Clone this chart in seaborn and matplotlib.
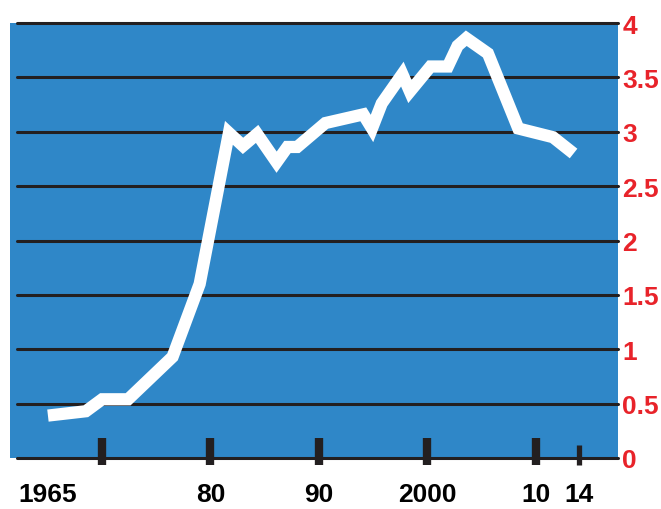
import numpy as np
import pandas as pd
import seaborn as sns
import matplotlib.pyplot as plt

# values
years = [1965, 1968.5, 1970, 1972.4, 1976.5, 1979, 1981.7, 1983, 1984.3, 1986.1,
         1987.1, 1988, 1990.6, 1994.1, 1994.9, 1995.8, 1997.7, 1998.4, 2000.3,
         2001.9, 2002.8, 2003.6, 2005.6, 2008.4, 2011.6, 2013.5]
values = [0.39, 0.43, 0.54, 0.54, 0.93, 1.60, 2.99, 2.87, 2.98, 2.72,
          2.86, 2.86, 3.08, 3.16, 3.03, 3.26, 3.53, 3.37, 3.60,
          3.60, 3.79, 3.86, 3.72, 3.03, 2.95, 2.80]

y_ticks = [0, 0.5, 1, 1.5, 2, 2.5, 3, 3.5, 4]
y_labels = ["0", "0.5", "1", "1.5", "2", "2.5", "3", "3.5", "4"]
label_years = [1965, 1980, 1990, 2000, 2010, 2014]
x_labels = ["1965", "80", "90", "2000", "10", "14"]
big_ticks = [1970, 1980, 1990, 2000, 2010]
small_ticks = [2014]

df = pd.DataFrame({"year": years, "value": values})

blue = "#2f87c8"
red = "#e8232a"
dark = "#231f20"

sns.set_style("white")
plt.rcParams['font.family'] = ['Liberation Sans', 'DejaVu Sans']

fig = plt.figure(figsize=(6.61, 5.10), dpi=100)
ax = fig.add_axes([10/661, 51/510, 608/661, 435/510])
ax.set_facecolor(blue)

for y in y_ticks:
    ax.axhline(y, xmin=0.012, xmax=1, color=dark, lw=2.2, clip_on=False, zorder=1)

sns.lineplot(data=df, x="year", y="value", color="white", lw=8.8, ax=ax,
             zorder=3, solid_joinstyle="miter", solid_capstyle="butt")

ax.set_xlim(1961.5, 2017.6)
ax.set_ylim(0, 4)
for s in ax.spines.values():
    s.set_visible(False)

ax.yaxis.tick_right()
ax.set_yticks(y_ticks)
ax.set_yticklabels(y_labels, color=red, fontsize=19, fontweight="bold")
ax.tick_params(axis="y", length=0, pad=3)

ax.set_xticks(label_years)
ax.set_xticklabels(x_labels, color="black", fontsize=19, fontweight="bold")
ax.tick_params(axis="x", length=0, pad=17)

# tick marks across the base line
trans = ax.get_xaxis_transform()
ax.vlines(big_ticks, -0.016, 0.046, transform=trans, color=dark, lw=6, clip_on=False, zorder=4)
ax.vlines(small_ticks, -0.016, 0.030, transform=trans, color=dark, lw=3.8, clip_on=False, zorder=4)

ax.set_xlabel("")
ax.set_ylabel("")

fig.savefig("out.png", dpi=100)
